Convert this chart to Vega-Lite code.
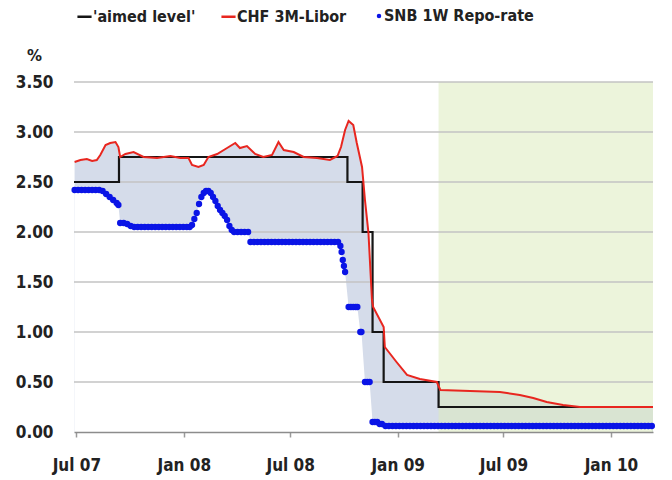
{
  "$schema": "https://vega.github.io/schema/vega-lite/v6.json",
  "width": 579,
  "height": 350,
  "autosize": {"type": "none"},
  "padding": {"left": 74, "top": 82, "right": 19, "bottom": 48},
  "background": "white",
  "config": {"view": {"stroke": null}, "font": "DejaVu Sans"},
  "datasets": {
    "libor": [
      {"date": "2007-06-28", "v": 2.70}, {"date": "2007-07-08", "v": 2.72}, {"date": "2007-07-19", "v": 2.73},
      {"date": "2007-07-28", "v": 2.71}, {"date": "2007-08-05", "v": 2.72}, {"date": "2007-08-11", "v": 2.77},
      {"date": "2007-08-20", "v": 2.87}, {"date": "2007-08-28", "v": 2.89}, {"date": "2007-09-06", "v": 2.90},
      {"date": "2007-09-11", "v": 2.85}, {"date": "2007-09-14", "v": 2.75}, {"date": "2007-09-23", "v": 2.78},
      {"date": "2007-10-07", "v": 2.80}, {"date": "2007-10-24", "v": 2.75}, {"date": "2007-11-16", "v": 2.74},
      {"date": "2007-12-09", "v": 2.76}, {"date": "2007-12-26", "v": 2.74}, {"date": "2008-01-09", "v": 2.74},
      {"date": "2008-01-15", "v": 2.67}, {"date": "2008-01-26", "v": 2.65}, {"date": "2008-02-04", "v": 2.67},
      {"date": "2008-02-12", "v": 2.75}, {"date": "2008-02-27", "v": 2.78}, {"date": "2008-03-15", "v": 2.84},
      {"date": "2008-03-29", "v": 2.89}, {"date": "2008-04-06", "v": 2.84}, {"date": "2008-04-18", "v": 2.86},
      {"date": "2008-05-02", "v": 2.78}, {"date": "2008-05-16", "v": 2.75}, {"date": "2008-05-31", "v": 2.77},
      {"date": "2008-06-11", "v": 2.90}, {"date": "2008-06-20", "v": 2.82}, {"date": "2008-07-07", "v": 2.80},
      {"date": "2008-07-24", "v": 2.75}, {"date": "2008-08-16", "v": 2.74}, {"date": "2008-09-07", "v": 2.72},
      {"date": "2008-09-20", "v": 2.76}, {"date": "2008-09-26", "v": 2.85}, {"date": "2008-10-03", "v": 3.02},
      {"date": "2008-10-09", "v": 3.11}, {"date": "2008-10-17", "v": 3.07}, {"date": "2008-10-23", "v": 2.89},
      {"date": "2008-11-01", "v": 2.65}, {"date": "2008-11-06", "v": 2.32}, {"date": "2008-11-12", "v": 1.99},
      {"date": "2008-11-18", "v": 1.32}, {"date": "2008-11-20", "v": 1.25}, {"date": "2008-12-08", "v": 1.05},
      {"date": "2008-12-10", "v": 0.85}, {"date": "2008-12-30", "v": 0.70}, {"date": "2009-01-17", "v": 0.57},
      {"date": "2009-02-08", "v": 0.53}, {"date": "2009-03-09", "v": 0.50}, {"date": "2009-03-15", "v": 0.42},
      {"date": "2009-05-05", "v": 0.41}, {"date": "2009-06-25", "v": 0.40}, {"date": "2009-07-07", "v": 0.39},
      {"date": "2009-07-29", "v": 0.37}, {"date": "2009-08-21", "v": 0.34}, {"date": "2009-09-13", "v": 0.30},
      {"date": "2009-10-11", "v": 0.27}, {"date": "2009-11-09", "v": 0.25}, {"date": "2010-03-14", "v": 0.25}
    ],
    "aim": [
      {"date": "2007-06-27", "v": 2.5}, {"date": "2007-09-12", "v": 2.75}, {"date": "2008-10-07", "v": 2.5},
      {"date": "2008-11-02", "v": 2.0}, {"date": "2008-11-19", "v": 1.0}, {"date": "2008-12-08", "v": 0.5},
      {"date": "2009-03-12", "v": 0.25}, {"date": "2010-03-14", "v": 0.25}
    ],
    "repo": [
      {"date": "2007-06-28", "v": 2.42}, {"date": "2007-07-04", "v": 2.42}, {"date": "2007-07-10", "v": 2.42},
      {"date": "2007-07-16", "v": 2.42}, {"date": "2007-07-22", "v": 2.42}, {"date": "2007-07-28", "v": 2.42},
      {"date": "2007-08-03", "v": 2.42}, {"date": "2007-08-09", "v": 2.42}, {"date": "2007-08-15", "v": 2.41},
      {"date": "2007-08-21", "v": 2.38}, {"date": "2007-08-27", "v": 2.35}, {"date": "2007-09-02", "v": 2.32},
      {"date": "2007-09-08", "v": 2.29}, {"date": "2007-09-11", "v": 2.27}, {"date": "2007-09-14", "v": 2.09},
      {"date": "2007-09-20", "v": 2.09}, {"date": "2007-09-26", "v": 2.08}, {"date": "2007-10-02", "v": 2.06},
      {"date": "2007-10-08", "v": 2.05}, {"date": "2007-10-14", "v": 2.05}, {"date": "2007-10-20", "v": 2.05},
      {"date": "2007-10-26", "v": 2.05}, {"date": "2007-11-01", "v": 2.05}, {"date": "2007-11-07", "v": 2.05},
      {"date": "2007-11-13", "v": 2.05}, {"date": "2007-11-19", "v": 2.05}, {"date": "2007-11-25", "v": 2.05},
      {"date": "2007-12-01", "v": 2.05}, {"date": "2007-12-07", "v": 2.05}, {"date": "2007-12-13", "v": 2.05},
      {"date": "2007-12-19", "v": 2.05}, {"date": "2007-12-25", "v": 2.05}, {"date": "2007-12-31", "v": 2.05},
      {"date": "2008-01-06", "v": 2.05}, {"date": "2008-01-11", "v": 2.05}, {"date": "2008-01-15", "v": 2.07},
      {"date": "2008-01-19", "v": 2.13}, {"date": "2008-01-23", "v": 2.19}, {"date": "2008-01-27", "v": 2.28},
      {"date": "2008-01-31", "v": 2.35}, {"date": "2008-02-04", "v": 2.39}, {"date": "2008-02-08", "v": 2.41},
      {"date": "2008-02-12", "v": 2.41}, {"date": "2008-02-16", "v": 2.39}, {"date": "2008-02-20", "v": 2.35},
      {"date": "2008-02-24", "v": 2.31}, {"date": "2008-02-28", "v": 2.26}, {"date": "2008-03-03", "v": 2.22},
      {"date": "2008-03-07", "v": 2.19}, {"date": "2008-03-11", "v": 2.16}, {"date": "2008-03-15", "v": 2.12},
      {"date": "2008-03-19", "v": 2.06}, {"date": "2008-03-23", "v": 2.02}, {"date": "2008-03-27", "v": 2.00},
      {"date": "2008-04-02", "v": 2.00}, {"date": "2008-04-08", "v": 2.00}, {"date": "2008-04-14", "v": 2.00},
      {"date": "2008-04-20", "v": 2.00}, {"date": "2008-04-24", "v": 1.90}, {"date": "2008-04-30", "v": 1.90},
      {"date": "2008-05-06", "v": 1.90}, {"date": "2008-05-12", "v": 1.90}, {"date": "2008-05-18", "v": 1.90},
      {"date": "2008-05-24", "v": 1.90}, {"date": "2008-05-30", "v": 1.90}, {"date": "2008-06-05", "v": 1.90},
      {"date": "2008-06-11", "v": 1.90}, {"date": "2008-06-17", "v": 1.90}, {"date": "2008-06-23", "v": 1.90},
      {"date": "2008-06-29", "v": 1.90}, {"date": "2008-07-05", "v": 1.90}, {"date": "2008-07-11", "v": 1.90},
      {"date": "2008-07-17", "v": 1.90}, {"date": "2008-07-23", "v": 1.90}, {"date": "2008-07-29", "v": 1.90},
      {"date": "2008-08-04", "v": 1.90}, {"date": "2008-08-10", "v": 1.90}, {"date": "2008-08-16", "v": 1.90},
      {"date": "2008-08-22", "v": 1.90}, {"date": "2008-08-28", "v": 1.90}, {"date": "2008-09-03", "v": 1.90},
      {"date": "2008-09-09", "v": 1.90}, {"date": "2008-09-15", "v": 1.90}, {"date": "2008-09-21", "v": 1.90},
      {"date": "2008-09-25", "v": 1.86}, {"date": "2008-09-27", "v": 1.80}, {"date": "2008-09-29", "v": 1.72},
      {"date": "2008-10-01", "v": 1.66}, {"date": "2008-10-03", "v": 1.60}, {"date": "2008-10-09", "v": 1.25},
      {"date": "2008-10-13", "v": 1.25}, {"date": "2008-10-17", "v": 1.25}, {"date": "2008-10-21", "v": 1.25},
      {"date": "2008-10-24", "v": 1.25}, {"date": "2008-10-29", "v": 1.00}, {"date": "2008-10-31", "v": 1.00},
      {"date": "2008-11-06", "v": 0.50}, {"date": "2008-11-10", "v": 0.50}, {"date": "2008-11-14", "v": 0.50},
      {"date": "2008-11-19", "v": 0.10}, {"date": "2008-11-23", "v": 0.10}, {"date": "2008-11-27", "v": 0.10},
      {"date": "2008-12-01", "v": 0.08}, {"date": "2008-12-05", "v": 0.08}, {"date": "2008-12-11", "v": 0.06},
      {"date": "2008-12-17", "v": 0.06}, {"date": "2008-12-23", "v": 0.06}, {"date": "2008-12-29", "v": 0.06},
      {"date": "2009-01-04", "v": 0.06}, {"date": "2009-01-10", "v": 0.06}, {"date": "2009-01-16", "v": 0.06},
      {"date": "2009-01-22", "v": 0.06}, {"date": "2009-01-28", "v": 0.06}, {"date": "2009-02-03", "v": 0.06},
      {"date": "2009-02-09", "v": 0.06}, {"date": "2009-02-15", "v": 0.06}, {"date": "2009-02-21", "v": 0.06},
      {"date": "2009-02-27", "v": 0.06}, {"date": "2009-03-05", "v": 0.06}, {"date": "2009-03-11", "v": 0.06},
      {"date": "2009-03-17", "v": 0.06}, {"date": "2009-03-23", "v": 0.06}, {"date": "2009-03-29", "v": 0.06},
      {"date": "2009-04-04", "v": 0.06}, {"date": "2009-04-10", "v": 0.06}, {"date": "2009-04-16", "v": 0.06},
      {"date": "2009-04-22", "v": 0.06}, {"date": "2009-04-28", "v": 0.06}, {"date": "2009-05-04", "v": 0.06},
      {"date": "2009-05-10", "v": 0.06}, {"date": "2009-05-16", "v": 0.06}, {"date": "2009-05-22", "v": 0.06},
      {"date": "2009-05-28", "v": 0.06}, {"date": "2009-06-03", "v": 0.06}, {"date": "2009-06-09", "v": 0.06},
      {"date": "2009-06-15", "v": 0.06}, {"date": "2009-06-21", "v": 0.06}, {"date": "2009-06-27", "v": 0.06},
      {"date": "2009-07-03", "v": 0.06}, {"date": "2009-07-09", "v": 0.06}, {"date": "2009-07-15", "v": 0.06},
      {"date": "2009-07-21", "v": 0.06}, {"date": "2009-07-27", "v": 0.06}, {"date": "2009-08-02", "v": 0.06},
      {"date": "2009-08-08", "v": 0.06}, {"date": "2009-08-14", "v": 0.06}, {"date": "2009-08-20", "v": 0.06},
      {"date": "2009-08-26", "v": 0.06}, {"date": "2009-09-01", "v": 0.06}, {"date": "2009-09-07", "v": 0.06},
      {"date": "2009-09-13", "v": 0.06}, {"date": "2009-09-19", "v": 0.06}, {"date": "2009-09-25", "v": 0.06},
      {"date": "2009-10-01", "v": 0.06}, {"date": "2009-10-07", "v": 0.06}, {"date": "2009-10-13", "v": 0.06},
      {"date": "2009-10-19", "v": 0.06}, {"date": "2009-10-25", "v": 0.06}, {"date": "2009-10-31", "v": 0.06},
      {"date": "2009-11-06", "v": 0.06}, {"date": "2009-11-12", "v": 0.06}, {"date": "2009-11-18", "v": 0.06},
      {"date": "2009-11-24", "v": 0.06}, {"date": "2009-11-30", "v": 0.06}, {"date": "2009-12-06", "v": 0.06},
      {"date": "2009-12-12", "v": 0.06}, {"date": "2009-12-18", "v": 0.06}, {"date": "2009-12-24", "v": 0.06},
      {"date": "2009-12-30", "v": 0.06}, {"date": "2010-01-05", "v": 0.06}, {"date": "2010-01-11", "v": 0.06},
      {"date": "2010-01-17", "v": 0.06}, {"date": "2010-01-23", "v": 0.06}, {"date": "2010-01-29", "v": 0.06},
      {"date": "2010-02-04", "v": 0.06}, {"date": "2010-02-10", "v": 0.06}, {"date": "2010-02-16", "v": 0.06},
      {"date": "2010-02-22", "v": 0.06}, {"date": "2010-02-28", "v": 0.06}, {"date": "2010-03-06", "v": 0.06},
      {"date": "2010-03-12", "v": 0.06}
    ],
    "green": [{"date": "2009-03-12", "end": "2010-03-14"}],
    "grid": [{"g": 0.5}, {"g": 1.0}, {"g": 1.5}, {"g": 2.0}, {"g": 2.5}, {"g": 3.0}, {"g": 3.5}]
  },
  "layer": [
    {
      "data": {"name": "libor"},
      "mark": {"type": "area", "color": "#d5dcea"},
      "encoding": {
        "x": {"field": "date", "type": "temporal", "title": null,
              "scale": {"domain": [{"year": 2007, "month": 6, "date": 27, "utc": true}, {"year": 2010, "month": 3, "date": 14, "utc": true}]},
              "axis": {"title": null, "orient": "bottom", "domain": true, "domainColor": "#8c8c8c", "domainWidth": 1.5,
                       "ticks": true, "tickColor": "#9a9a9a", "tickSize": 5, "tickWidth": 1.5,
                       "tickCount": {"interval": "month", "step": 6}, "format": "%b %y",
                       "labelFont": "DejaVu Sans Condensed, DejaVu Sans", "labelFontSize": 17, "labelFontWeight": "bold",
                       "labelColor": "#222222", "labelPadding": 20, "labelFlush": false, "labelOverlap": false,
                       "grid": false, "zindex": 1}},
        "y": {"field": "v", "type": "quantitative", "title": "%",
              "scale": {"domain": [0, 3.5], "nice": false},
              "axis": {"title": "%", "titleAngle": 0, "titleX": -40, "titleY": -22, "titleAlign": "center",
                       "titleBaseline": "alphabetic", "titleFont": "DejaVu Sans", "titleFontSize": 15,
                       "titleFontWeight": "bold", "titleColor": "#222222",
                       "domain": false, "ticks": false, "tickSize": 0, "grid": false,
                       "values": [0, 0.5, 1, 1.5, 2, 2.5, 3, 3.5], "format": ".2f",
                       "labelFont": "DejaVu Sans Condensed, DejaVu Sans", "labelFontSize": 17, "labelFontWeight": "bold",
                       "labelColor": "#222222", "labelPadding": 21}}
      }
    },
    {
      "data": {"name": "repo"},
      "mark": {"type": "area", "color": "#ffffff"},
      "encoding": {
        "x": {"field": "date", "type": "temporal", "title": null},
        "y": {"field": "v", "type": "quantitative", "title": "%"}
      }
    },
    {
      "data": {"name": "green"},
      "mark": {"type": "rect", "color": "#ddebbd", "opacity": 0.55},
      "encoding": {
        "x": {"field": "date", "type": "temporal", "title": null},
        "x2": {"field": "end"},
        "y": {"datum": 0, "type": "quantitative", "title": "%"},
        "y2": {"datum": 3.5}
      }
    },
    {
      "data": {"name": "grid"},
      "mark": {"type": "rule", "color": "#c3c3c3", "strokeWidth": 1.5},
      "encoding": {
        "y": {"field": "g", "type": "quantitative", "title": "%"}
      }
    },
    {
      "data": {"name": "aim"},
      "mark": {"type": "line", "interpolate": "step-after", "strokeWidth": 2.2},
      "encoding": {
        "x": {"field": "date", "type": "temporal", "title": null},
        "y": {"field": "v", "type": "quantitative", "title": "%"},
        "color": {"datum": "'aimed level'",
                  "scale": {"domain": ["'aimed level'", "CHF 3M-Libor"], "range": ["#151515", "#e8261f"]},
                  "legend": {"title": null, "orient": "none", "legendX": 2, "legendY": -74, "direction": "horizontal",
                             "padding": 0, "columnPadding": 20, "labelOffset": 0, "symbolSize": 200,
                             "symbolStrokeWidth": 2.5, "symbolType": "stroke",
                             "labelFont": "DejaVu Sans Condensed, DejaVu Sans", "labelFontSize": 16, "labelFontWeight": "bold",
                             "labelColor": "#222222", "labelLimit": 300}}
      }
    },
    {
      "data": {"name": "libor"},
      "mark": {"type": "line", "strokeWidth": 2},
      "encoding": {
        "x": {"field": "date", "type": "temporal", "title": null},
        "y": {"field": "v", "type": "quantitative", "title": "%"},
        "color": {"datum": "CHF 3M-Libor"}
      }
    },
    {
      "data": {"name": "repo"},
      "mark": {"type": "circle", "size": 40, "opacity": 1},
      "encoding": {
        "x": {"field": "date", "type": "temporal", "title": null},
        "y": {"field": "v", "type": "quantitative", "title": "%"},
        "fill": {"datum": "SNB 1W Repo-rate",
                 "scale": {"domain": ["SNB 1W Repo-rate"], "range": ["#0a14e6"]},
                 "legend": {"title": null, "orient": "none", "legendX": 297, "legendY": -74, "direction": "horizontal",
                            "padding": 0, "labelOffset": -3, "symbolSize": 20, "symbolType": "circle",
                            "labelFont": "DejaVu Sans Condensed, DejaVu Sans", "labelFontSize": 16, "labelFontWeight": "bold",
                            "labelColor": "#222222", "labelLimit": 300}}
      }
    }
  ]
}
